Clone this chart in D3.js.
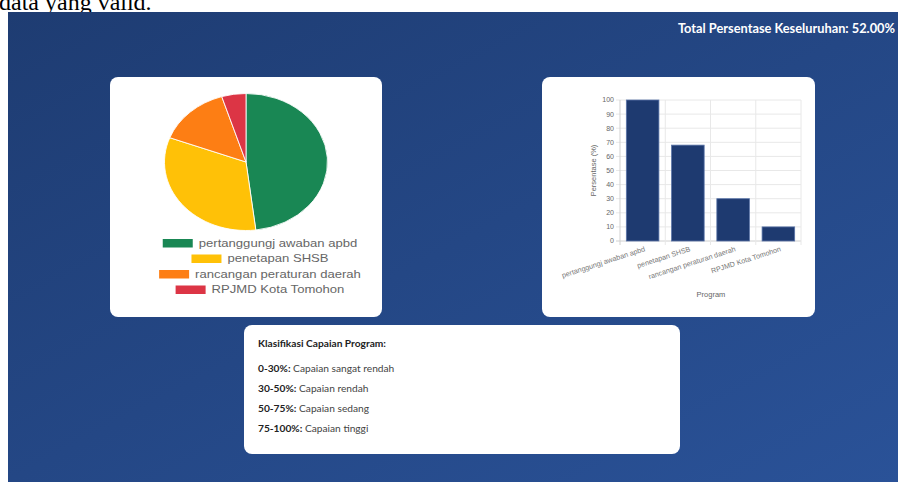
<!DOCTYPE html>
<html>
<head>
<meta charset="utf-8">
<script src="https://cdn.jsdelivr.net/npm/d3@7"></script>
<style>
  body { margin: 0; background: #fff; overflow: hidden; }
  svg { display: block; }
</style>
</head>
<body>
<div id="chart-area"></div>
<script>
// *********************
// Data
// *********************
const programs = ["pertanggungj awaban apbd", "penetapan SHSB", "rancangan peraturan daerah", "RPJMD Kota Tomohon"];
const percentages = [100, 68, 30, 10];
const pieColors = ["#198754", "#ffc107", "#fd7e14", "#dc3545"];
const yTicks = [0, 10, 20, 30, 40, 50, 60, 70, 80, 90, 100];
const classRanges = ["0-30%:", "30-50%:", "50-75%:", "75-100%:"];
const classLabels = ["Capaian sangat rendah", "Capaian rendah", "Capaian sedang", "Capaian tinggi"];

const width = 898;
const height = 482;
const chartFont = "'Liberation Sans', Arial, sans-serif";
const uiFont = "Lato, 'Open Sans', sans-serif";

const svg = d3.select("#chart-area")
  .append("svg")
  .attr("width", width)
  .attr("height", height);

// Background gradient
const defs = svg.append("defs");
const grad = defs.append("linearGradient")
  .attr("id", "bg")
  .attr("x1", 0).attr("y1", 0)
  .attr("x2", 1).attr("y2", 1);
grad.append("stop").attr("offset", "0%").attr("stop-color", "#1e3c72");
grad.append("stop").attr("offset", "100%").attr("stop-color", "#2a5298");

// Leftover page text above the panel
svg.append("text")
  .attr("x", -1)
  .attr("y", 10)
  .attr("font-family", "'Liberation Serif', 'Times New Roman', serif")
  .attr("font-size", "24px")
  .attr("fill", "#000")
  .text("data yang valid.");

svg.append("rect")
  .attr("x", 8).attr("y", 12)
  .attr("width", width - 8).attr("height", height - 12)
  .attr("fill", "url(#bg)");

// Total label
const total = d3.mean(percentages);
svg.append("text")
  .attr("x", 895)
  .attr("y", 33)
  .attr("text-anchor", "end")
  .attr("font-family", uiFont)
  .attr("font-weight", "bold")
  .attr("font-size", "12.8px")
  .attr("fill", "#fff")
  .text("Total Persentase Keseluruhan: " + total.toFixed(2) + "%");

// Cards
const cards = [
  {x: 110, y: 77, w: 272, h: 240},
  {x: 542, y: 77, w: 273, h: 240},
  {x: 244, y: 325, w: 436, h: 129}
];
svg.selectAll("rect.card")
  .data(cards)
  .enter().append("rect")
  .attr("class", "card")
  .attr("x", d => d.x).attr("y", d => d.y)
  .attr("width", d => d.w).attr("height", d => d.h)
  .attr("rx", 8)
  .attr("fill", "#fff");

// *********************
// Pie chart (canvas was stretched horizontally)
// *********************
const stretch = 1.19;
const pieG = svg.append("g")
  .attr("transform", `translate(246,162) scale(${stretch},1)`);

const pie = d3.pie().sort(null);
const arc = d3.arc().innerRadius(0).outerRadius(68.5);

pieG.selectAll("path")
  .data(pie(percentages))
  .enter().append("path")
  .attr("d", arc)
  .attr("fill", (d, i) => pieColors[i])
  .attr("stroke", "#fff")
  .attr("stroke-width", 0.8);

// Pie legend
const legendY = d3.scaleBand().domain(programs).range([239, 301]);
const legendG = svg.append("g")
  .attr("transform", `translate(260,0)`);
programs.forEach((p, i) => {
  const row = legendG.append("g");
  const t = row.append("text")
    .attr("font-family", chartFont)
    .attr("font-size", "11px")
    .attr("fill", "#666")
    .attr("transform", `scale(${stretch},1)`)
    .attr("y", legendY(p) + 8)
    .text(p);
  const tw = t.node().getComputedTextLength() * stretch;
  const boxW = 30, gap = 6;
  const rowW = boxW + gap + tw;
  const x0 = -rowW / 2;
  row.append("rect")
    .attr("x", x0)
    .attr("y", legendY(p))
    .attr("width", boxW)
    .attr("height", 8.5)
    .attr("fill", pieColors[i]);
  t.attr("x", (x0 + boxW + gap) / stretch);
});

// *********************
// Bar chart
// *********************
const x = d3.scaleBand()
  .domain(programs)
  .range([620, 801]);

const y = d3.scaleLinear()
  .domain([0, 100])
  .range([241, 100]);

const barG = svg.append("g");

// horizontal grid
barG.selectAll("line.hgrid")
  .data(yTicks)
  .enter().append("line")
  .attr("x1", 616).attr("x2", 801)
  .attr("y1", d => y(d)).attr("y2", d => y(d))
  .attr("stroke", d => d === 0 ? "#d0d0d0" : "#e8e8e8")
  .attr("stroke-width", 1);

// vertical grid
const vLines = programs.map(p => x(p)).concat([x.range()[1]]);
barG.selectAll("line.vgrid")
  .data(vLines)
  .enter().append("line")
  .attr("x1", d => d).attr("x2", d => d)
  .attr("y1", y(100)).attr("y2", y(0) + 4)
  .attr("stroke", (d, i) => i === 0 ? "#d0d0d0" : "#e8e8e8")
  .attr("stroke-width", 1);

// y tick labels
barG.selectAll("text.ytick")
  .data(yTicks)
  .enter().append("text")
  .attr("x", 614)
  .attr("y", d => y(d))
  .attr("dy", "0.35em")
  .attr("text-anchor", "end")
  .attr("font-family", chartFont)
  .attr("font-size", "7px")
  .attr("fill", "#666")
  .text(d => d);

// bars
const barW = x.bandwidth() * 0.72;
barG.selectAll("rect.bar")
  .data(percentages)
  .enter().append("rect")
  .attr("x", (d, i) => x(programs[i]) + (x.bandwidth() - barW) / 2)
  .attr("y", d => y(d))
  .attr("width", barW)
  .attr("height", d => y(0) - y(d))
  .attr("fill", "#1e3a70")
  .attr("stroke", "#5a74a8")
  .attr("stroke-width", 0.8);

// x labels
barG.selectAll("text.xtick")
  .data(programs)
  .enter().append("text")
  .attr("transform", d => `translate(${x(d) + x.bandwidth() / 2 + 3},${y(0) + 10}) rotate(-18)`)
  .attr("text-anchor", "end")
  .attr("font-family", chartFont)
  .attr("font-size", "7.2px")
  .attr("fill", "#777")
  .text(d => d);

// axis titles
barG.append("text")
  .attr("transform", `translate(596,${(y(0) + y(100)) / 2}) rotate(-90)`)
  .attr("text-anchor", "middle")
  .attr("font-family", chartFont)
  .attr("font-size", "7.5px")
  .attr("fill", "#666")
  .text("Persentase (%)");

barG.append("text")
  .attr("x", 711)
  .attr("y", 297)
  .attr("text-anchor", "middle")
  .attr("font-family", chartFont)
  .attr("font-size", "7.5px")
  .attr("fill", "#666")
  .text("Program");

// *********************
// Classification card
// *********************
const infoG = svg.append("g").attr("font-family", uiFont).attr("font-size", "10.2px");
infoG.append("text")
  .attr("x", 258).attr("y", 347)
  .attr("font-weight", "bold")
  .attr("fill", "#222")
  .text("Klasifikasi Capaian Program:");

const infoY = d3.scalePoint().domain(classRanges).range([372, 432]);
classRanges.forEach((r, i) => {
  const t = infoG.append("text")
    .attr("x", 258).attr("y", infoY(r))
    .attr("fill", "#444");
  t.append("tspan").attr("font-weight", "bold").attr("fill", "#222").text(r);
  t.append("tspan").text(" " + classLabels[i]);
});
</script>
</body>
</html>
